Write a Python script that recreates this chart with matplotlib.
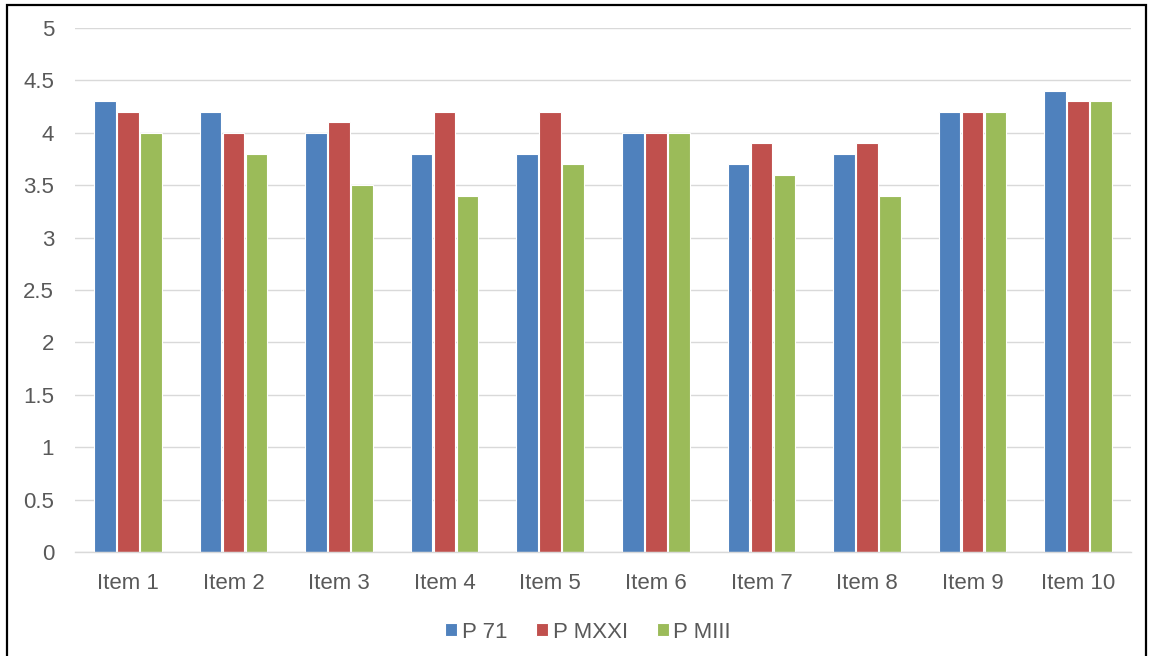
import numpy as np
import matplotlib
matplotlib.use("Agg")
import matplotlib.pyplot as plt
from matplotlib.patches import Rectangle

# ===============================
# Dados
# ===============================
itens = ["Item 1", "Item 2", "Item 3", "Item 4", "Item 5",
         "Item 6", "Item 7", "Item 8", "Item 9", "Item 10"]
p71 = [4.3, 4.2, 4.0, 3.8, 3.8, 4.0, 3.7, 3.8, 4.2, 4.4]
p_mxxi = [4.2, 4.0, 4.1, 4.2, 4.2, 4.0, 3.9, 3.9, 4.2, 4.3]
p_miii = [4.0, 3.8, 3.5, 3.4, 3.7, 4.0, 3.6, 3.4, 4.2, 4.3]
series_nomes = ["P 71", "P MXXI", "P MIII"]
y_ticks = [0, 0.5, 1, 1.5, 2, 2.5, 3, 3.5, 4, 4.5, 5]

cores = ["#4f81bd", "#c0504d", "#9bbb59"]
texto_cor = "#595959"
plt.rcParams["font.family"] = ["Liberation Sans", "DejaVu Sans"]

# ===============================
# Figura
# ===============================
fig = plt.figure(figsize=(11.51, 6.56), dpi=100)
ax = fig.add_axes([75 / 1151, 1 - 552.3 / 656, 1056 / 1151, 524.6 / 656])

x = np.arange(len(itens))
passo = 0.218
largura = 0.205
for i, (vals, nome) in enumerate(zip([p71, p_mxxi, p_miii], series_nomes)):
    ax.bar(x + (i - 1) * passo, vals, width=largura, color=cores[i],
           edgecolor="white", linewidth=0.8, label=nome, zorder=3)

ax.set_xlim(-0.5, len(itens) - 0.5)
ax.set_ylim(0, 5)
ax.set_yticks(y_ticks)
ax.set_yticklabels([f"{v:g}" for v in y_ticks])
ax.set_xticks(x)
ax.set_xticklabels(itens)

ax.grid(axis="y", color="#d9d9d9", linewidth=1.0, zorder=0)
ax.set_axisbelow(True)
for lado in ["top", "right", "left"]:
    ax.spines[lado].set_visible(False)
ax.spines["bottom"].set_color("#d9d9d9")
ax.spines["bottom"].set_linewidth(1.0)
ax.spines["bottom"].set_zorder(4)

ax.tick_params(axis="both", length=0, labelsize=16, colors=texto_cor)
ax.tick_params(axis="y", pad=15)
ax.tick_params(axis="x", pad=15)

leg = fig.legend(loc="center", bbox_to_anchor=(588 / 1151, 1 - 632 / 656),
                 ncol=3, frameon=False, fontsize=16, handlelength=0.55,
                 handleheight=0.55, handletextpad=0.2, columnspacing=1.3)
for t in leg.get_texts():
    t.set_color(texto_cor)

# moldura preta
fig.patches.append(Rectangle((7 / 1151, -0.05), 1139 / 1151, 1.05 - 5 / 656,
                             transform=fig.transFigure, fill=False,
                             edgecolor="black", linewidth=1.6))

fig.savefig("out.png", dpi=100)
